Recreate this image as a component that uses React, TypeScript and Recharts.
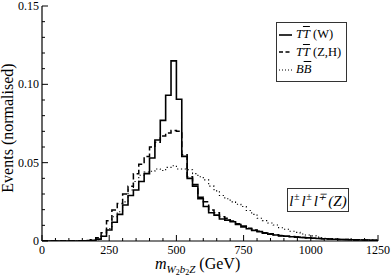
import React from 'react';
import { LineChart, Line, XAxis, YAxis } from 'recharts';

const binStarts = [
  0, 20, 40, 60, 80, 100, 120, 140, 160, 180,
  200, 220, 240, 260, 280, 300, 320, 340, 360, 380,
  400, 420, 440, 460, 480, 500, 520, 540, 560, 580,
  600, 620, 640, 660, 680, 700, 720, 740, 760, 780,
  800, 820, 840, 860, 880, 900, 920, 940, 960, 980,
  1000, 1020, 1040, 1060, 1080, 1100, 1120, 1140, 1160, 1180,
  1200, 1220, 1240,
];
const histEnd = 1250;

const ttW = [
  0, 0, 0, 0, 0, 0, 0, 0.0001, 0.0002, 0.0005,
  0.0012, 0.003, 0.007, 0.012, 0.017, 0.023, 0.029, 0.0326, 0.038, 0.043,
  0.053, 0.0645, 0.077, 0.093, 0.115, 0.0905, 0.054, 0.04, 0.035, 0.027,
  0.022, 0.018, 0.0165, 0.014, 0.0133, 0.0123, 0.0105, 0.009, 0.0078, 0.0068,
  0.006, 0.005, 0.0044, 0.0038, 0.0033, 0.003, 0.0027, 0.0025, 0.0022, 0.002,
  0.0018, 0.0016, 0.0014, 0.0013, 0.0011, 0.001, 0.0009, 0.0008, 0.0007, 0.0006,
  0.0006, 0.0005, 0.0004,
];

const ttZH = [
  0, 0, 0, 0, 0, 0, 0, 0.0001, 0.0003, 0.0008,
  0.002, 0.0053, 0.013, 0.0198, 0.024, 0.03, 0.035, 0.043, 0.049, 0.054,
  0.06, 0.063, 0.067, 0.069, 0.0705, 0.07, 0.055, 0.041, 0.036, 0.028,
  0.025, 0.0198, 0.018, 0.0155, 0.0145, 0.0128, 0.011, 0.0095, 0.0082, 0.007,
  0.0062, 0.0052, 0.0046, 0.004, 0.0035, 0.0031, 0.0028, 0.0025, 0.0022, 0.002,
  0.0018, 0.0016, 0.0014, 0.0012, 0.0011, 0.001, 0.0009, 0.0008, 0.0007, 0.0006,
  0.0006, 0.0005, 0.0004,
];

const bb = [
  0, 0, 0, 0, 0, 0, 0, 0, 0, 0.0002,
  0.0008, 0.003, 0.008, 0.0155, 0.0187, 0.025, 0.0326, 0.038, 0.042, 0.044,
  0.0445, 0.046, 0.045, 0.047, 0.048, 0.046, 0.046, 0.0455, 0.043, 0.041,
  0.039, 0.035, 0.032, 0.029, 0.027, 0.025, 0.0235, 0.022, 0.0195, 0.017,
  0.0145, 0.013, 0.0115, 0.0102, 0.0085, 0.0075, 0.0062, 0.0055, 0.0045, 0.0038,
  0.0033, 0.0025, 0.0018, 0.0015, 0.0012, 0.0011, 0.001, 0.001, 0.0009, 0.0008,
  0.0008, 0.0007, 0.0006,
];

const xTicks = [
  0, 50, 100, 150, 200, 250, 300, 350, 400, 450, 500, 550, 600, 650, 700,
  750, 800, 850, 900, 950, 1000, 1050, 1100, 1150, 1200, 1250,
];
const xMajorTicks = [0, 250, 500, 750, 1000, 1250];
const xMajorLabels = ['0', '250', '500', '750', '1000', '1250'];

const yTicks = [
  0, 0.01, 0.02, 0.03, 0.04, 0.05, 0.06, 0.07, 0.08, 0.09, 0.1, 0.11, 0.12,
  0.13, 0.14, 0.15,
];
const yMajorTicks = [0, 0.05, 0.1, 0.15];
const yMajorLabels = ['0', '0.05', '0.10', '0.15'];

const data = [
  ...binStarts.map((x, i) => ({ x, w: ttW[i], zh: ttZH[i], bb: bb[i] })),
  {
    x: histEnd,
    w: ttW[ttW.length - 1],
    zh: ttZH[ttZH.length - 1],
    bb: bb[bb.length - 1],
  },
];

const FONT = '"Liberation Serif", "Times New Roman", serif';
const MAJ = 6;
const MIN = 3;

const majorIndex = (arr: number[], v: number) =>
  arr.findIndex((m) => Math.abs(m - v) < 1e-9);

const BottomTick = (props: any) => {
  const { x, y, payload } = props;
  const k = majorIndex(xMajorTicks, payload.value);
  const major = k >= 0;
  return (
    <g>
      <line x1={x} x2={x} y1={y} y2={y - (major ? MAJ : MIN)} stroke="#000" strokeWidth={1} />
      {major && (
        <text x={x} y={y + 13} textAnchor="middle" fontFamily={FONT} fontSize={12} fill="#000">
          {xMajorLabels[k]}
        </text>
      )}
    </g>
  );
};

const TopTick = (props: any) => {
  const { x, y, payload } = props;
  const major = majorIndex(xMajorTicks, payload.value) >= 0;
  return <line x1={x} x2={x} y1={y} y2={y + (major ? MAJ : MIN)} stroke="#000" strokeWidth={1} />;
};

const LeftTick = (props: any) => {
  const { x, y, payload } = props;
  const k = majorIndex(yMajorTicks, payload.value);
  const major = k >= 0;
  return (
    <g>
      <line x1={x} x2={x + (major ? MAJ : MIN)} y1={y} y2={y} stroke="#000" strokeWidth={1} />
      {major && (
        <text x={x - 3} y={y + 4} textAnchor="end" fontFamily={FONT} fontSize={12} fill="#000">
          {yMajorLabels[k]}
        </text>
      )}
    </g>
  );
};

const RightTick = (props: any) => {
  const { x, y, payload } = props;
  const major = majorIndex(yMajorTicks, payload.value) >= 0;
  return <line x1={x} x2={x - (major ? MAJ : MIN)} y1={y} y2={y} stroke="#000" strokeWidth={1} />;
};

const axisLine = { stroke: '#000', strokeWidth: 1.2 };

const TT = () => (
  <span style={{ fontStyle: 'italic' }}>
    T<span style={{ textDecoration: 'overline' }}>T</span>
  </span>
);

const supStyle: React.CSSProperties = { fontSize: 10, position: 'relative', top: -6, marginLeft: 0.5, marginRight: 2 };

export default function App() {
  return (
    <div style={{ position: 'absolute', left: 0, top: 0, width: 391, height: 278, background: '#fff', fontFamily: FONT }}>
      <LineChart width={391} height={278} data={data} margin={{ top: 6, right: 13, left: 0, bottom: 0 }}>
        <XAxis
          xAxisId="b"
          dataKey="x"
          type="number"
          domain={[0, 1250]}
          ticks={xTicks}
          interval={0}
          tick={(p: any) => <BottomTick {...p} />}
          tickLine={false}
          tickSize={0}
          tickMargin={0}
          height={37}
          axisLine={axisLine}
          allowDataOverflow
        />
        <XAxis
          xAxisId="t"
          orientation="top"
          dataKey="x"
          type="number"
          domain={[0, 1250]}
          ticks={xTicks}
          interval={0}
          tick={(p: any) => <TopTick {...p} />}
          tickLine={false}
          tickSize={0}
          tickMargin={0}
          height={0}
          axisLine={axisLine}
          allowDataOverflow
        />
        <YAxis
          yAxisId="l"
          type="number"
          domain={[0, 0.15]}
          ticks={yTicks}
          interval={0}
          tick={(p: any) => <LeftTick {...p} />}
          tickLine={false}
          tickSize={0}
          tickMargin={0}
          width={42}
          axisLine={axisLine}
          allowDataOverflow
        />
        <YAxis
          yAxisId="r"
          orientation="right"
          type="number"
          domain={[0, 0.15]}
          ticks={yTicks}
          interval={0}
          tick={(p: any) => <RightTick {...p} />}
          tickLine={false}
          tickSize={0}
          tickMargin={0}
          width={0}
          axisLine={axisLine}
          allowDataOverflow
        />
        <Line xAxisId="b" yAxisId="l" type="stepAfter" dataKey="bb" stroke="#000" strokeWidth={1.1} strokeDasharray="1.2 2.6" dot={false} isAnimationActive={false} />
        <Line xAxisId="b" yAxisId="l" type="stepAfter" dataKey="zh" stroke="#000" strokeWidth={1.5} strokeDasharray="6 3" dot={false} isAnimationActive={false} />
        <Line xAxisId="b" yAxisId="l" type="stepAfter" dataKey="w" stroke="#000" strokeWidth={1.6} dot={false} isAnimationActive={false} />
      </LineChart>

      {/* Y axis title */}
      <div
        style={{
          position: 'absolute',
          left: 8,
          top: 128,
          transform: 'translate(-50%, -50%) rotate(-90deg)',
          fontSize: 16,
          whiteSpace: 'nowrap',
          lineHeight: 1,
        }}
      >
        Events (normalised)
      </div>

      {/* X axis title */}
      <div style={{ position: 'absolute', left: 155, top: 256, fontSize: 16, whiteSpace: 'nowrap', lineHeight: 1 }}>
        <i>m</i>
        <span style={{ fontSize: 11, position: 'relative', top: 4 }}>
          <i>W</i>
          <span style={{ fontSize: 8, position: 'relative', top: 2 }}>2</span>
          <i>b</i>
          <span style={{ fontSize: 8, position: 'relative', top: 2 }}>2</span>
          <i>Z</i>
        </span>{' '}
        (GeV)
      </div>

      {/* Legend */}
      <div
        style={{
          position: 'absolute',
          left: 276,
          top: 22,
          width: 71,
          height: 60,
          border: '1px solid #333',
          boxSizing: 'border-box',
          fontSize: 12.5,
          background: '#fff',
        }}
      >
        {[
          { dash: 'none', w: 1.6, label: <><TT /> (W)</> },
          { dash: '4 2.5', w: 1.4, label: <><TT /> (Z,H)</> },
          { dash: '1 2', w: 1.1, label: <span style={{ fontStyle: 'italic' }}>B<span style={{ textDecoration: 'overline' }}>B</span></span> },
        ].map((r, i) => (
          <div key={i} style={{ position: 'absolute', left: 2, top: 4 + i * 17.5, height: 15, display: 'flex', alignItems: 'center', whiteSpace: 'nowrap' }}>
            <svg width={13} height={4} style={{ marginRight: 4 }}>
              <line x1={0} x2={13} y1={2} y2={2} stroke="#000" strokeWidth={r.w} strokeDasharray={r.dash === 'none' ? undefined : r.dash} />
            </svg>
            <span>{r.label}</span>
          </div>
        ))}
      </div>

      {/* Process label */}
      <div
        style={{
          position: 'absolute',
          left: 287,
          top: 188,
          width: 62,
          height: 24,
          border: '1px solid #333',
          boxSizing: 'border-box',
          fontSize: 15,
          fontStyle: 'italic',
          display: 'flex',
          alignItems: 'center',
          justifyContent: 'center',
          whiteSpace: 'nowrap',
          background: '#fff',
          lineHeight: 1,
          paddingTop: 3,
        }}
      >
        <span>
          l<span style={supStyle}>±</span>l<span style={supStyle}>±</span>l<span style={supStyle}>∓</span>(Z)
        </span>
      </div>
    </div>
  );
}
